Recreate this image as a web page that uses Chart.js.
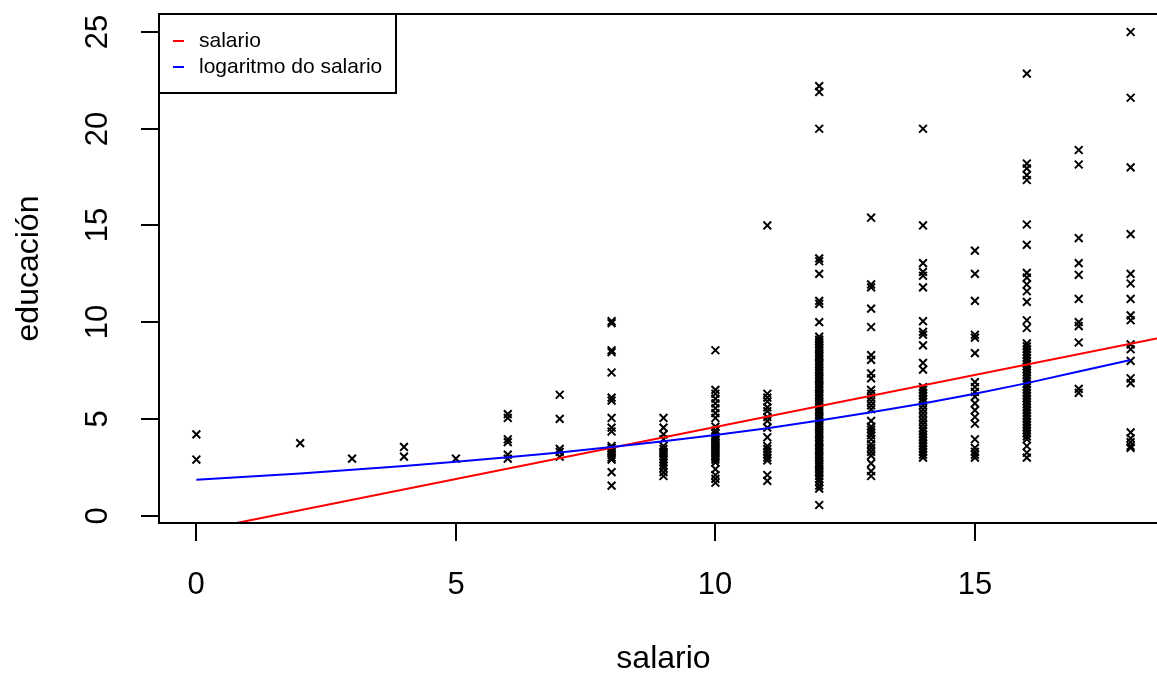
<!DOCTYPE html>
<html>
<head>
<meta charset="utf-8">
<script src="https://cdn.jsdelivr.net/npm/chart.js@4/dist/chart.umd.min.js"></script>
<style>
  html, body { margin: 0; padding: 0; background: #fff; overflow: hidden; }
  #wrap { width: 1190px; height: 675px; }
</style>
</head>
<body>
<div id="wrap"><canvas id="grafico" width="1190" height="675"></canvas></div>
<script>
// salario values that have observations
const salarios = [0, 2, 3, 4, 5, 6, 7, 8, 9, 10, 11, 12, 13, 14, 15, 16, 17, 18];

const educacion = [
  [4.2, 2.9],
  [3.75],
  [2.95],
  [3.55, 3.05],
  [2.95],
  [5.25, 5.05, 3.95, 3.8, 3.15, 2.95],
  [6.25, 5.0, 3.45, 3.3, 3.05],
  [10.05, 9.95, 8.55, 8.45, 7.4, 6.1, 5.95, 5.05, 4.55, 4.35, 3.6, 3.5, 3.4, 3.3, 3.15, 3.0, 2.9, 2.25, 1.55],
  [5.05, 4.55, 4.2, 3.95, 3.6, 3.45, 3.3, 3.2, 3.05, 2.9, 2.75, 2.6, 2.45, 2.25, 2.05],
  [8.55, 6.5, 6.3, 6.05, 5.8, 5.55, 5.3, 5.05, 4.6, 4.4, 4.25, 4.1, 4.0, 3.9, 3.8, 3.7, 3.6, 3.5, 3.4, 3.3, 3.2, 3.1, 3.0, 2.9, 2.75, 2.4, 2.1, 1.9, 1.7],
  [15.0, 6.3, 6.1, 5.9, 5.6, 5.4, 5.1, 4.9, 4.55, 4.05, 3.6, 3.45, 3.3, 3.15, 3.0, 2.85, 2.1, 1.8],
  [22.2, 21.9, 20.0, 13.3, 13.15, 12.5, 11.1, 10.95, 10.0, 9.25, 9.1, 9.0, 8.85, 8.7, 8.6, 8.45, 8.3, 8.2, 8.05,
   7.9, 7.8, 7.65, 7.5, 7.4, 7.25, 7.1, 7.0, 6.85, 6.7, 6.6, 6.45, 6.3, 6.2, 6.05, 5.9, 5.8, 5.65, 5.5, 5.4,
   5.25, 5.1, 5.0, 4.85, 4.7, 4.6, 4.45, 4.3, 4.2, 4.05, 3.9, 3.8, 3.65, 3.5, 3.4, 3.25, 3.1, 3.0, 2.85, 2.7,
   2.6, 2.45, 2.3, 2.2, 2.05, 1.9, 1.75, 1.55, 1.4, 0.55],
  [15.4, 11.95, 11.8, 10.7, 9.75, 8.3, 8.05, 7.35, 7.1, 6.5, 6.3, 6.1, 5.9, 5.7, 5.5, 4.9, 4.6, 4.45, 4.3, 4.15, 3.95, 3.7, 3.5, 3.3, 3.1, 2.7, 2.3, 2.05],
  [20.0, 15.0, 13.05, 12.6, 12.4, 11.8, 10.05, 9.5, 9.35, 8.8, 7.9, 7.55, 6.65, 6.5, 6.35, 6.2, 6.05, 5.9, 5.7, 5.5, 5.3, 5.1, 4.9, 4.7, 4.5, 4.35, 4.2, 4.05, 3.9, 3.75, 3.6, 3.45, 3.3, 3.15, 3.0],
  [13.7, 12.5, 11.1, 9.35, 9.2, 8.4, 6.9, 6.65, 6.4, 6.15, 5.8, 5.45, 5.1, 4.75, 3.95, 3.5, 3.3, 3.15, 3.0],
  [22.85, 18.2, 17.95, 17.6, 17.35, 15.05, 14.0, 12.55, 12.3, 11.95, 11.6, 11.05, 10.1, 9.7, 8.9, 8.75, 8.6, 8.45,
   8.3, 8.15, 8.0, 7.85, 7.7, 7.55, 7.4, 7.25, 7.1, 6.95, 6.8, 6.65, 6.5, 6.35, 6.2, 6.05, 5.9, 5.75, 5.6, 5.45,
   5.3, 5.15, 5.0, 4.85, 4.7, 4.55, 4.4, 4.25, 4.1, 3.95, 3.6, 3.25, 3.0],
  [18.9, 18.15, 14.35, 13.05, 12.45, 11.2, 10.0, 9.8, 8.95, 6.55, 6.35],
  [25.0, 21.6, 18.0, 14.55, 12.5, 12.0, 11.2, 10.35, 10.1, 8.85, 8.6, 8.0, 7.1, 6.85, 4.3, 4.0, 3.8, 3.6, 3.5]
];

// red fitted line (salario), ends read where it leaves the plot
const lineaX = [0.7, 18.72];
const lineaY = [-0.42, 9.27];

// blue fitted curve (logaritmo do salario), drawn through the observed salarios
const logX = [0, 2, 3, 4, 5, 6, 7, 8, 9, 10, 11, 12, 13, 14, 15, 16, 17, 18];
const logY = [1.85, 2.18, 2.37, 2.57, 2.79, 3.02, 3.27, 3.55, 3.85, 4.17, 4.52, 4.92, 5.35, 5.8, 6.3, 6.85, 7.45, 8.05];

const xTicks = [0, 5, 10, 15];
const yTicks = [0, 5, 10, 15, 20, 25];

const FONT = '"Liberation Sans", Arial, Helvetica, sans-serif';

let puntos = [];
salarios.forEach((s, i) => {
    educacion[i].forEach(e => puntos.push({ x: s, y: e }));
});

// draws the axes, box and legend the way base R does
const ejesR = {
    id: 'ejesR',
    afterDraw(chart) {
        const ctx = chart.ctx;
        const a = chart.chartArea;
        const x = chart.scales.x;
        const y = chart.scales.y;

        ctx.save();
        ctx.strokeStyle = '#000';
        ctx.fillStyle = '#000';
        ctx.lineWidth = 2;
        ctx.strokeRect(a.left, a.top, a.right - a.left, a.bottom - a.top);

        ctx.font = '31px ' + FONT;
        ctx.textAlign = 'center';
        ctx.textBaseline = 'alphabetic';

        xTicks.forEach(v => {
            const px = Math.round(x.getPixelForValue(v));
            ctx.beginPath();
            ctx.moveTo(px, a.bottom);
            ctx.lineTo(px, a.bottom + 18);
            ctx.stroke();
            ctx.fillText(String(v), px, 594);
        });

        yTicks.forEach(v => {
            const py = Math.round(y.getPixelForValue(v));
            ctx.beginPath();
            ctx.moveTo(a.left, py);
            ctx.lineTo(a.left - 18, py);
            ctx.stroke();
            ctx.save();
            ctx.translate(107, py);
            ctx.rotate(-Math.PI / 2);
            ctx.fillText(String(v), 0, 0);
            ctx.restore();
        });

        // axis titles
        ctx.font = '32px ' + FONT;
        ctx.fillText('salario', (a.left + a.right) / 2, 668);
        ctx.save();
        ctx.translate(38, (a.top + a.bottom) / 2);
        ctx.rotate(-Math.PI / 2);
        ctx.fillText('educación', 0, 0);
        ctx.restore();

        // legend
        const lw = 237, lh = 79;
        ctx.fillStyle = '#fff';
        ctx.fillRect(a.left, a.top, lw, lh);
        ctx.strokeRect(a.left, a.top, lw, lh);
        ctx.font = '21px ' + FONT;
        ctx.textAlign = 'left';
        let fila = 0;
        chart.data.datasets.forEach(ds => {
            if (!ds.label) return;
            const cy = a.top + 27 + fila * 26;
            ctx.strokeStyle = ds.borderColor;
            ctx.beginPath();
            ctx.moveTo(a.left + 14, cy);
            ctx.lineTo(a.left + 25, cy);
            ctx.stroke();
            ctx.fillStyle = '#000';
            ctx.fillText(ds.label, a.left + 40, cy + 6);
            fila++;
        });
        ctx.restore();
    }
};

const config = {
    type: 'scatter',
    data: {
        datasets: [
            {
                label: 'salario',
                data: lineaX.map((v, i) => ({ x: v, y: lineaY[i] })),
                showLine: true,
                borderColor: '#FF0000',
                borderWidth: 2,
                pointRadius: 0,
                clip: 0,
                order: 1
            },
            {
                label: 'logaritmo do salario',
                data: logX.map((v, i) => ({ x: v, y: logY[i] })),
                showLine: true,
                borderColor: '#0000FF',
                borderWidth: 2,
                pointRadius: 0,
                clip: 0,
                order: 0
            },
            {
                label: '',
                data: puntos,
                pointStyle: 'crossRot',
                pointRadius: 5.5,
                borderColor: '#000',
                backgroundColor: '#000',
                borderWidth: 2,
                clip: 0,
                order: 2
            }
        ]
    },
    options: {
        responsive: false,
        animation: false,
        devicePixelRatio: 1,
        layout: { padding: { top: 14, right: 22, left: 0, bottom: 0 } },
        scales: {
            x: {
                type: 'linear',
                min: -0.72,
                max: 18.72,
                grid: { display: false },
                border: { display: false },
                ticks: { display: false },
                afterFit: s => { s.height = 152; }
            },
            y: {
                type: 'linear',
                min: -0.38,
                max: 25.93,
                grid: { display: false },
                border: { display: false },
                ticks: { display: false },
                afterFit: s => { s.width = 159; }
            }
        },
        plugins: {
            legend: { display: false },
            tooltip: { enabled: false }
        }
    },
    plugins: [ejesR]
};

const grafico = new Chart(document.getElementById('grafico'), config);
</script>
</body>
</html>
